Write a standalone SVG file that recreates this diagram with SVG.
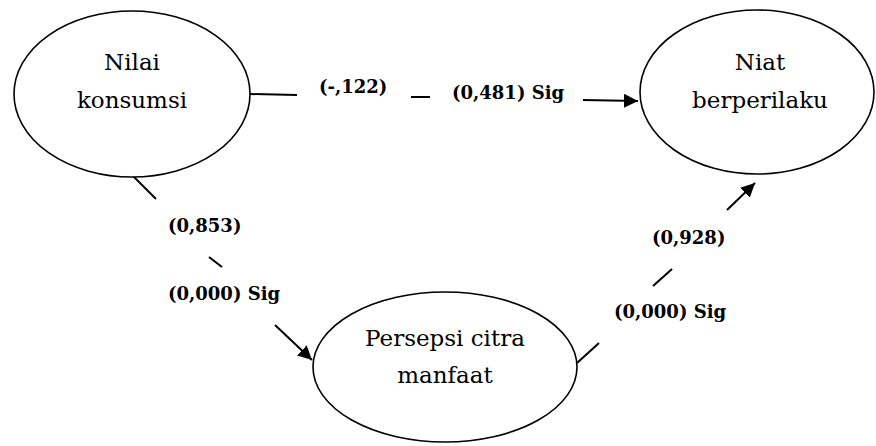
<svg xmlns="http://www.w3.org/2000/svg" width="876" height="446" viewBox="0 0 876 446">
<style>
.node{fill:#fff;stroke:#000;stroke-width:1.6}
.nt{font-family:'DejaVu Serif',serif;font-size:23px;fill:#000;text-anchor:middle}
.lbl{font-family:'DejaVu Serif',serif;font-size:18px;font-weight:bold;fill:#000}
.ln{stroke:#000;stroke-width:2;fill:none}
</style>
<defs>
<marker id="ah" viewBox="0 0 10 10" refX="10" refY="5" markerWidth="7" markerHeight="7" markerUnits="strokeWidth" orient="auto">
<path d="M0,0 L10,5 L0,10 z" fill="#000"/>
</marker>
</defs>
<rect width="876" height="446" fill="#fff"/>
<g id="connectors">
<line class="ln" x1="250" y1="94" x2="297" y2="95"/>
<line class="ln" x1="411" y1="97" x2="430" y2="97"/>
<line class="ln" x1="583" y1="100" x2="638" y2="101" marker-end="url(#ah)"/>
<line class="ln" x1="133" y1="176" x2="156" y2="199"/>
<line class="ln" x1="209" y1="257" x2="222" y2="267"/>
<line class="ln" x1="275" y1="325" x2="312" y2="360" marker-end="url(#ah)"/>
<line class="ln" x1="577" y1="363" x2="599" y2="343"/>
<line class="ln" x1="653" y1="286" x2="672" y2="269"/>
<line class="ln" x1="727" y1="210" x2="755" y2="183" marker-end="url(#ah)"/>
</g>
<g id="labels">
<text class="lbl" x="319" y="93">(-,122)</text>
<text class="lbl" x="452" y="99">(0,481) Sig</text>
<text class="lbl" x="168" y="232">(0,853)</text>
<text class="lbl" x="168" y="300">(0,000) Sig</text>
<text class="lbl" x="652" y="244">(0,928)</text>
<text class="lbl" x="614" y="318">(0,000) Sig</text>
</g>
<g id="nilai">
<ellipse class="node" cx="132" cy="94" rx="118" ry="83"/>
<text class="nt" x="132" y="70">Nilai</text>
<text class="nt" x="132" y="108">konsumsi</text>
</g>
<g id="niat">
<ellipse class="node" cx="757" cy="92" rx="117" ry="82"/>
<text class="nt" x="760" y="70">Niat</text>
<text class="nt" x="760" y="108">berperilaku</text>
</g>
<g id="persepsi">
<ellipse class="node" cx="445" cy="367" rx="132" ry="75"/>
<text class="nt" x="445" y="346">Persepsi citra</text>
<text class="nt" x="445" y="383">manfaat</text>
</g>
</svg>
